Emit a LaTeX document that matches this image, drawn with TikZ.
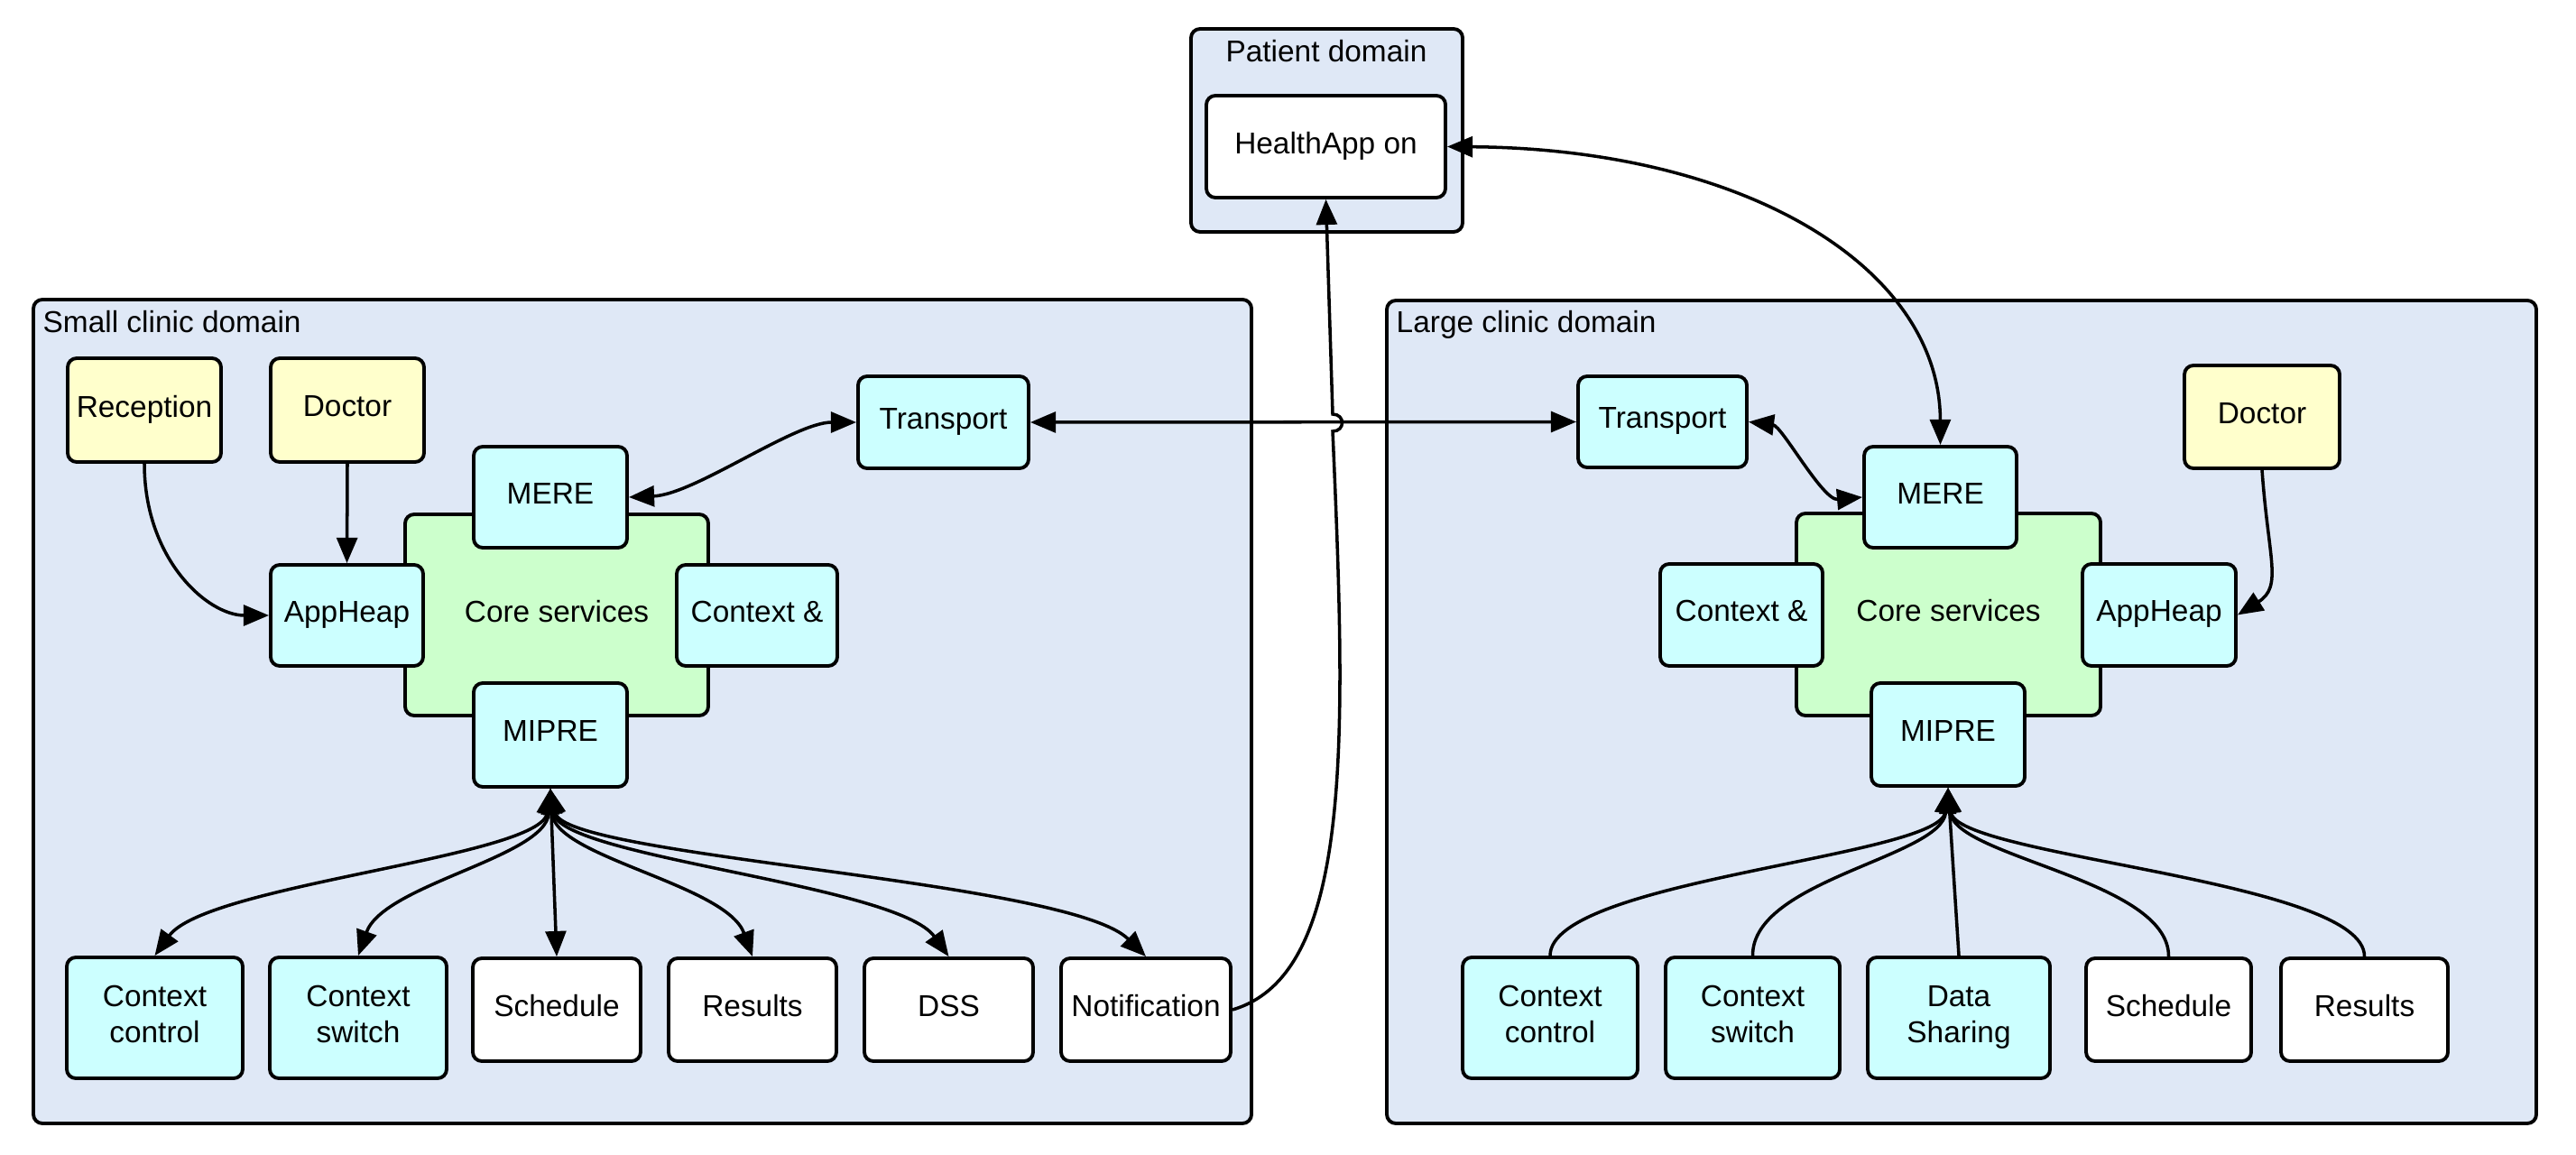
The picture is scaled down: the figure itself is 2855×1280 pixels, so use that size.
\documentclass[tikz,border=0pt]{standalone}
\usepackage{fontspec}
\setmainfont{Liberation Sans}
\usetikzlibrary{arrows.meta}

\definecolor{domainfill}{HTML}{DFE8F6}
\definecolor{svccyan}{HTML}{CCFFFF}
\definecolor{roleyellow}{HTML}{FFFFCC}
\definecolor{coregreen}{HTML}{CCFFCC}

% box from its corners: style, name, x1, y1, x2, y2, text
\newcommand\mkbox[7]{%
  \pgfmathsetmacro\mkboxW{(#5-#3)*0.01}%
  \pgfmathsetmacro\mkboxH{(#6-#4)*0.01}%
  \node[#1, minimum width=\mkboxW cm, minimum height=\mkboxH cm] (#2) at ({(#3+#5)/2},{(#4+#6)/2}) {#7};}

\begin{document}
\begin{tikzpicture}[x={(0.01cm,0)}, y={(0,-0.01cm)},
  every node/.style={font=\fontsize{9.5pt}{11.4pt}\selectfont, text=black},
  boxbase/.style={draw=black, line width=1.1pt, rounded corners=0.1cm, inner sep=0pt,
    align=center, text depth=0.25em},
  domainbox/.style={boxbase, fill=domainfill},
  svcbox/.style={boxbase, fill=svccyan},
  rolebox/.style={boxbase, fill=roleyellow},
  corebox/.style={boxbase, fill=coregreen},
  plainbox/.style={boxbase, fill=white},
  conn/.style={draw=black, line width=1pt},
  tipfwd/.style={conn, -{Triangle[length=8pt,width=6.5pt]}},
  tipboth/.style={conn, {Triangle[length=8pt,width=6.5pt]}-{Triangle[length=8pt,width=6.5pt]}},
]
\useasboundingbox (0,0) rectangle (2855,1280);

% domains
\mkbox{domainbox}{pdom}{1320}{32}{1621}{257}{}
\mkbox{domainbox}{sdom}{37}{332}{1387}{1245}{}
\mkbox{domainbox}{ldom}{1537}{333}{2811}{1245}{}
\node[anchor=base, inner sep=0pt] (pdomlbl) at (1470,69) {Patient domain};
\node[anchor=base west, inner sep=0pt] (sdomlbl) at (47,369) {Small clinic domain};
\node[anchor=base west, inner sep=0pt] (ldomlbl) at (1547,369) {Large clinic domain};

% patient side
\mkbox{plainbox}{happ}{1337}{106}{1602}{219}{HealthApp on}

% small clinic
\mkbox{rolebox}{rec1}{75}{397}{245}{512}{Reception}
\mkbox{rolebox}{doc1}{300}{397}{470}{512}{Doctor}
\mkbox{corebox}{core1}{449}{570}{785}{793}{Core services}
\mkbox{svcbox}{mere1}{525}{495}{695}{607}{MERE}
\mkbox{svcbox}{mipre1}{525}{757}{695}{872}{MIPRE}
\mkbox{svcbox}{app1}{300}{626}{469}{738}{AppHeap}
\mkbox{svcbox}{ctx1}{750}{626}{928}{738}{Context \&}
\mkbox{svcbox}{tr1}{951}{417}{1140}{519}{Transport}
\mkbox{svcbox}{cc1}{74}{1061}{269}{1195}{Context\\control}
\mkbox{svcbox}{cs1}{299}{1061}{495}{1195}{Context\\switch}
\mkbox{plainbox}{sch1}{524}{1062}{710}{1176}{Schedule}
\mkbox{plainbox}{res1}{741}{1062}{927}{1176}{Results}
\mkbox{plainbox}{dss1}{958}{1062}{1145}{1176}{DSS}
\mkbox{plainbox}{not1}{1176}{1062}{1364}{1176}{Notification}

% large clinic
\mkbox{svcbox}{tr2}{1749}{417}{1936}{518}{Transport}
\mkbox{rolebox}{doc2}{2421}{405}{2593}{519}{Doctor}
\mkbox{corebox}{core2}{1991}{569}{2328}{793}{Core services}
\mkbox{svcbox}{mere2}{2066}{495}{2235}{607}{MERE}
\mkbox{svcbox}{mipre2}{2074}{757}{2244}{871}{MIPRE}
\mkbox{svcbox}{ctx2}{1840}{625}{2020}{738}{Context \&}
\mkbox{svcbox}{app2}{2308}{625}{2478}{738}{AppHeap}
\mkbox{svcbox}{cc2}{1621}{1061}{1815}{1195}{Context\\control}
\mkbox{svcbox}{cs2}{1846}{1061}{2039}{1195}{Context\\switch}
\mkbox{svcbox}{ds2}{2070}{1061}{2272}{1195}{Data\\Sharing}
\mkbox{plainbox}{sc2}{2312}{1062}{2495}{1176}{Schedule}
\mkbox{plainbox}{rs2}{2528}{1062}{2713}{1176}{Results}

% links between domains
\draw[tipboth] (tr1.east) -- (tr2.west);
\draw[tipfwd] (not1.east) .. controls (1500,1080) and (1492,820) .. (1477,478)
  .. controls (1491,478) and (1491,459) .. (1477,459) -- (happ.south);
\draw[tipboth] (happ.east) .. controls (1932,165) and (2150,295) .. (mere2.north);

% small clinic connectors
\draw[tipboth] (mere1.east) .. controls (770,548) and (880,468) .. (tr1.west);
\draw[tipfwd] (rec1.south) .. controls (160,620) and (230,682) .. (app1.west);
\draw[tipfwd] (doc1.south) -- (app1.north);
\draw[tipboth] (mipre1.south) .. controls (600,950) and (229,980) .. (cc1.north);
\draw[tipboth] (mipre1.south) .. controls (605,950) and (425,980) .. (cs1.north);
\draw[tipboth] (mipre1.south) -- (sch1.north);
\draw[tipboth] (mipre1.south) .. controls (615,950) and (805,980) .. (res1.north);
\draw[tipboth] (mipre1.south) .. controls (620,950) and (994,980) .. (dss1.north);
\draw[tipboth] (mipre1.south) .. controls (625,950) and (1184,975) .. (not1.north);

% large clinic connectors
\draw[tipboth] (tr2.east) .. controls (1975,472) and (2020,555) .. (mere2.west);
\draw[tipfwd] (doc2.south) .. controls (2514,620) and (2530,650) .. (app2.east);
\draw[tipfwd] (cc2.north) .. controls (1718,975) and (2150,950) .. (mipre2.south);
\draw[tipfwd] (cs2.north) .. controls (1942,975) and (2152,950) .. (mipre2.south);
\draw[tipfwd] (ds2.north) -- (mipre2.south);
\draw[tipfwd] (sc2.north) .. controls (2404,975) and (2166,950) .. (mipre2.south);
\draw[tipfwd] (rs2.north) .. controls (2621,975) and (2168,950) .. (mipre2.south);
\end{tikzpicture}
\end{document}
